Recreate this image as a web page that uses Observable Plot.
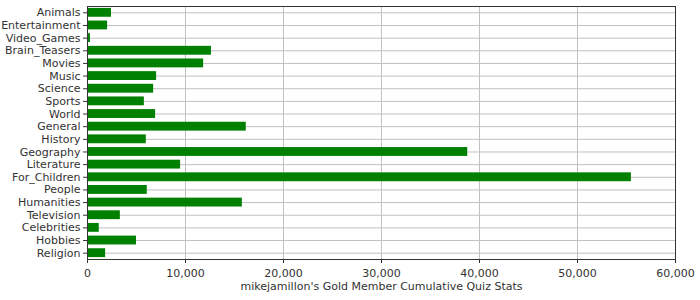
<!DOCTYPE html>
<html>
<head>
<meta charset="utf-8">
<script src="https://cdn.jsdelivr.net/npm/d3@7"></script>
<script src="https://cdn.jsdelivr.net/npm/@observablehq/plot@0.6"></script>
<style>
  html, body { margin: 0; padding: 0; background: #fff; }
  #chart svg { display: block; }
</style>
</head>
<body>
<div id="chart"></div>
<script>
const categories = ["Animals","Entertainment","Video_Games","Brain_Teasers","Movies","Music","Science","Sports","World","General","History","Geography","Literature","For_Children","People","Humanities","Television","Celebrities","Hobbies","Religion"];
const values = [2450, 2050, 300, 12650, 11850, 7050, 6750, 5800, 6950, 16200, 6000, 38800, 9500, 55500, 6100, 15800, 3350, 1200, 5000, 1850];
const xTicks = [0, 10000, 20000, 30000, 40000, 50000, 60000];
const xLabel = "mikejamillon's Gold Member Cumulative Quiz Stats";

const data = categories.map((c, i) => ({category: c, value: values[i]}));
const fmt = d3.format(",");

const chart = Plot.plot({
  width: 700,
  height: 300,
  marginLeft: 87,
  marginRight: 25,
  marginTop: 6,
  marginBottom: 41,
  style: {fontFamily: "DejaVu Sans", fontSize: "11px", color: "#333", background: "#fff"},
  x: {domain: [0, 60000], range: [87, 675], ticks: xTicks, tickFormat: fmt, label: null},
  y: {domain: categories, range: [6, 259], round: false, paddingInner: 0.3, paddingOuter: 0.15, label: null},
  marks: [
    Plot.gridX(xTicks, {stroke: "#c0c0c0", strokeOpacity: 1, strokeWidth: 1}),
    Plot.gridY(categories, {stroke: "#c0c0c0", strokeOpacity: 1, strokeWidth: 1}),
    Plot.barX(data, {y: "category", x: "value", fill: "#008000"}),
    Plot.frame({stroke: "#333", strokeWidth: 1}),
    Plot.axisY({tickSize: 4, tickPadding: 3, stroke: "#333", fill: "#333", fontSize: 11, label: null}),
    Plot.axisX({ticks: xTicks, tickFormat: fmt, tickSize: 4, tickPadding: 6, stroke: "#333", fill: "#333", fontSize: 11, label: null}),
    Plot.text([xLabel], {frameAnchor: "bottom", dy: 30, fill: "#333", fontSize: 11})
  ]
});
document.getElementById("chart").appendChild(chart);
</script>
</body>
</html>
